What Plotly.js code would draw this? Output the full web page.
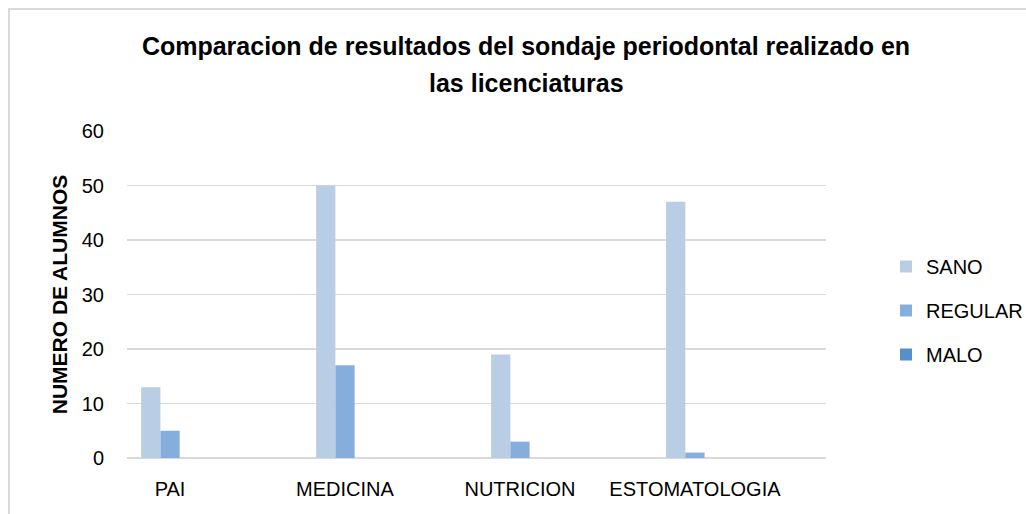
<!DOCTYPE html>
<html>
<head>
<meta charset="utf-8">
<script src="https://cdn.plot.ly/plotly-3.0.1.min.js"></script>
<style>html,body{margin:0;padding:0;background:#fff;}#chart{width:1026px;height:514px;}</style>
</head>
<body>
<div id="chart"></div>
<script>
const categories = ['PAI', 'MEDICINA', 'NUTRICION', 'ESTOMATOLOGIA'];
const seriesNames = ['SANO', 'REGULAR', 'MALO'];
const sano = [13, 50, 19, 47];
const regular = [5, 17, 3, 1];
const malo = [0, 0, 0, 0];
const yTicks = [0, 10, 20, 30, 40, 50, 60];
const titleLine1 = 'Comparacion de resultados del sondaje periodontal realizado en';
const titleLine2 = 'las licenciaturas';
const yTitle = 'NUMERO DE ALUMNOS';

const colors = ['#B9CDE5', '#86AEDC', '#5690CB'];
const values = [sano, regular, malo];
const FONT = 'Liberation Sans, Arial, sans-serif';

const traces = seriesNames.map((name, i) => ({
  type: 'bar',
  name: name,
  x: categories,
  y: values[i],
  marker: {color: colors[i], line: {width: 0}},
  legendgroup: name,
  hoverinfo: 'x+y+name'
}));

const L = 127, R = 200, T = 131, B = 56;
const pw = 1026 - L - R, ph = 514 - T - B;
const px = v => (v - L) / pw;
const py = v => (514 - B - v) / ph;

const layout = {
  width: 1026, height: 514,
  margin: {l: L, r: R, t: T, b: B, pad: 0, autoexpand: false},
  paper_bgcolor: '#ffffff', plot_bgcolor: '#ffffff',
  font: {family: FONT, size: 20, color: '#000000'},
  barmode: 'group',
  bargap: 0.67,
  bargroupgap: 0,
  title: {
    text: '<b>' + titleLine1 + '</b>',
    font: {family: FONT, size: 25, color: '#000000'},
    xref: 'container', x: 526 / 1026, xanchor: 'center',
    yref: 'container', y: 1 - 46 / 514, yanchor: 'middle'
  },
  annotations: [{
    text: '<b>' + titleLine2 + '</b>',
    font: {family: FONT, size: 25, color: '#000000'},
    xref: 'paper', yref: 'paper',
    x: px(526), y: py(83), xanchor: 'center', yanchor: 'middle',
    showarrow: false
  }],
  xaxis: {
    type: 'category',
    range: [-0.246, 3.749],
    showgrid: false, zeroline: false,
    showline: false, ticks: '',
    ticklabelstandoff: 17,
    tickfont: {family: FONT, size: 20, color: '#000000'},
    fixedrange: true
  },
  yaxis: {
    range: [0, 60],
    tickvals: yTicks,
    ticktext: yTicks.map(String),
    showgrid: true, gridcolor: '#D9D9D9', gridwidth: 1.5,
    zeroline: true, zerolinecolor: '#D9D9D9', zerolinewidth: 1.5,
    showline: false, ticks: '',
    ticklabelstandoff: 22,
    tickfont: {family: FONT, size: 20, color: '#000000'},
    title: {text: '<b>' + yTitle + '</b>', standoff: 8,
            font: {family: FONT, size: 21, color: '#000000'}},
    fixedrange: true
  },
  showlegend: true,
  legend: {
    x: px(886), y: py(247), xanchor: 'left', yanchor: 'top',
    traceorder: 'grouped',
    tracegroupgap: 15,
    font: {family: FONT, size: 20, color: '#000000'},
    bgcolor: 'rgba(0,0,0,0)', borderwidth: 0
  },
  shapes: [{
    type: 'rect', xref: 'paper', yref: 'paper',
    x0: px(9), x1: px(1100), y0: py(9), y1: py(560),
    line: {color: '#D9D9D9', width: 2}, fillcolor: 'rgba(0,0,0,0)',
    layer: 'below'
  }]
};

Plotly.newPlot('chart', traces, layout, {displayModeBar: false, staticPlot: true});
</script>
</body>
</html>
